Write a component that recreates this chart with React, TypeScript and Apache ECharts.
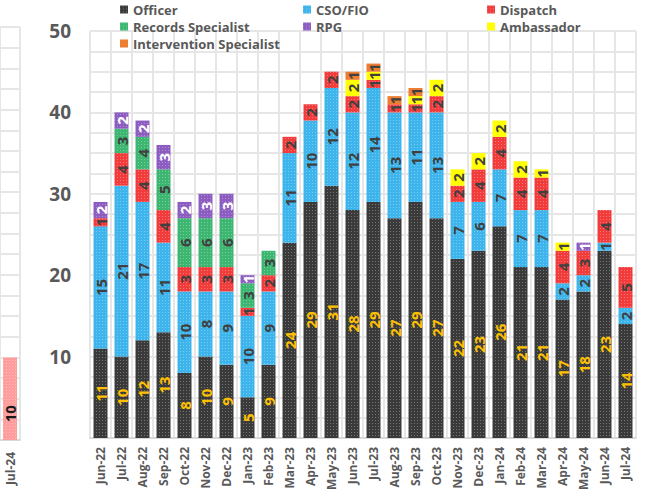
import React, { useEffect, useRef } from "react";
import * as echarts from "echarts";

const categories = [
  "Jun-22", "Jul-22", "Aug-22", "Sep-22", "Oct-22", "Nov-22", "Dec-22",
  "Jan-23", "Feb-23", "Mar-23", "Apr-23", "May-23", "Jun-23", "Jul-23",
  "Aug-23", "Sep-23", "Oct-23", "Nov-23", "Dec-23", "Jan-24", "Feb-24",
  "Mar-24", "Apr-24", "May-24", "Jun-24", "Jul-24",
];
const officer = [11, 10, 12, 13, 8, 10, 9, 5, 9, 24, 29, 31, 28, 29, 27, 29, 27, 22, 23, 26, 21, 21, 17, 18, 23, 14];
const csoFio = [15, 21, 17, 11, 10, 8, 9, 10, 9, 11, 10, 12, 12, 14, 13, 11, 13, 7, 6, 7, 7, 7, 2, 2, 1, 2];
const dispatch = [1, 4, 4, 4, 3, 3, 3, 1, 2, 2, 2, 2, 2, 1, 1, 1, 2, 2, 4, 4, 4, 4, 4, 3, 4, 5];
const records = [0, 3, 4, 5, 6, 6, 6, 3, 3, 0, 0, 0, 0, 0, 0, 0, 0, 0, 0, 0, 0, 0, 0, 0, 0, 0];
const rpg = [2, 2, 2, 3, 2, 3, 3, 1, 0, 0, 0, 0, 0, 0, 0, 0, 0, 0, 0, 0, 0, 0, 0, 1, 0, 0];
const ambassador = [0, 0, 0, 0, 0, 0, 0, 0, 0, 0, 0, 0, 2, 1, 0, 1, 2, 2, 2, 2, 2, 1, 1, 0, 0, 0];
const intervention = [0, 0, 0, 0, 0, 0, 0, 0, 0, 0, 0, 0, 1, 1, 1, 1, 0, 0, 0, 0, 0, 0, 0, 0, 0, 0];

const sideCategories = ["Jul-24"];
const sideValues = [10];

const yTicks = [10, 20, 30, 40, 50];

const FONT = "Open Sans";
const GRID_COLOR = "#e6e6e6";
const AXIS_TEXT = "#595959";

const decal = (c: string) => ({
  symbol: "rect",
  symbolSize: 1,
  color: c,
  dashArrayX: [1, 2],
  dashArrayY: [1, 2],
  rotation: 0,
});

export default function App() {
  const ref = useRef<HTMLDivElement>(null);
  useEffect(() => {
    if (!ref.current) return;
    const chart = echarts.init(ref.current, undefined, { renderer: "svg" });
    const labelFmt = (p: any) => (p.value ? String(p.value) : "");
    const mk = (name: string, data: number[], color: string, labelColor: string, dc: string) => ({
      name,
      type: "bar",
      stack: "total",
      xAxisIndex: 0,
      yAxisIndex: 0,
      barWidth: 14,
      data,
      itemStyle: { color, decal: decal(dc) },
      label: {
        show: true,
        position: "inside",
        rotate: 90,
        formatter: labelFmt,
        color: labelColor,
        fontFamily: FONT,
        fontWeight: "bold",
        fontSize: 15,
      },
    });
    const legendBase = {
      orient: "vertical",
      top: 2,
      padding: 0,
      itemWidth: 8,
      itemHeight: 8,
      itemGap: 2,
      icon: "rect",
      selectedMode: false,
      textStyle: { fontFamily: FONT, fontWeight: "bold", fontSize: 13, color: AXIS_TEXT, lineHeight: 15, padding: [0, 0, 0, 0] },
    };
    chart.setOption({
      animation: false,
      backgroundColor: "#ffffff",
      textStyle: { fontFamily: FONT },
      legend: [
        { ...legendBase, left: 120, data: ["Officer", "Records Specialist", "Intervention Specialist"] },
        { ...legendBase, left: 303, data: ["CSO/FIO", "RPG"] },
        { ...legendBase, left: 487, data: ["Dispatch", "Ambassador"] },
      ],
      grid: [
        { left: 90, right: 10, top: 31, bottom: 61, containLabel: false },
        { left: 0, width: 20, top: 27, bottom: 59, containLabel: false },
      ],
      xAxis: [
        {
          type: "category",
          gridIndex: 0,
          data: categories,
          axisTick: { show: false },
          axisLine: { lineStyle: { color: "#d9d9d9", width: 2 } },
          splitLine: { show: true, interval: 0, lineStyle: { color: GRID_COLOR, width: 2 } },
          axisLabel: { interval: 0, rotate: 90, margin: 9, fontFamily: FONT, fontWeight: "bold", fontSize: 12, color: AXIS_TEXT },
        },
        {
          type: "category",
          gridIndex: 1,
          data: sideCategories,
          axisTick: { show: false },
          axisLine: { lineStyle: { color: "#d9d9d9", width: 2 } },
          splitLine: { show: true, interval: 0, lineStyle: { color: GRID_COLOR, width: 2 } },
          axisLabel: { interval: 0, rotate: 90, margin: 12, fontFamily: FONT, fontWeight: "bold", fontSize: 12, color: AXIS_TEXT },
        },
      ],
      yAxis: [
        {
          type: "value",
          gridIndex: 0,
          min: 0,
          max: 50,
          interval: 2.5,
          axisLine: { show: false },
          axisTick: { show: false },
          splitLine: { lineStyle: { color: GRID_COLOR, width: 2 } },
          axisLabel: {
            margin: 19,
            fontFamily: FONT,
            fontWeight: "bold",
            fontSize: 19,
            color: AXIS_TEXT,
            formatter: (v: number) => (yTicks.includes(v) ? String(v) : ""),
          },
        },
        {
          type: "value",
          gridIndex: 1,
          min: 0,
          max: 50,
          interval: 2.5,
          axisLine: { show: false },
          axisTick: { show: false },
          axisLabel: { show: false },
          splitLine: { lineStyle: { color: GRID_COLOR, width: 2 } },
        },
      ],
      series: [
        mk("Officer", officer, "#3a3a3a", "#ffc000", "rgba(255,255,255,0.3)"),
        mk("CSO/FIO", csoFio, "#3db5ec", "#404040", "rgba(255,255,255,0.3)"),
        mk("Dispatch", dispatch, "#f23c3c", "#404040", "rgba(255,255,255,0.3)"),
        mk("Records Specialist", records, "#3cb671", "#404040", "rgba(255,255,255,0.3)"),
        mk("RPG", rpg, "#8d5cc0", "#ffffff", "rgba(255,255,255,0.3)"),
        {
          ...mk("Ambassador", ambassador, "#ffff00", "#404040", "rgba(255,255,255,0)"),
          itemStyle: { color: "#ffff00" },
        },
        {
          ...mk("Intervention Specialist", intervention, "#ed7d31", "#404040", "rgba(255,255,255,0)"),
          itemStyle: { color: "#ed7d31" },
        },
        {
          name: "side",
          type: "bar",
          xAxisIndex: 1,
          yAxisIndex: 1,
          barWidth: 14,
          data: sideValues,
          itemStyle: { color: "#ff9c9c", decal: decal("rgba(255,255,255,0.3)") },
          label: {
            show: true,
            position: "inside",
            rotate: 90,
            offset: [-15, 0],
            color: "#1a1a1a",
            fontFamily: FONT,
            fontWeight: "bold",
            fontSize: 15,
          },
        },
      ],
    });
    return () => chart.dispose();
  }, []);
  return <div ref={ref} style={{ position: "absolute", left: 0, top: 0, width: 646, height: 499 }} />;
}
